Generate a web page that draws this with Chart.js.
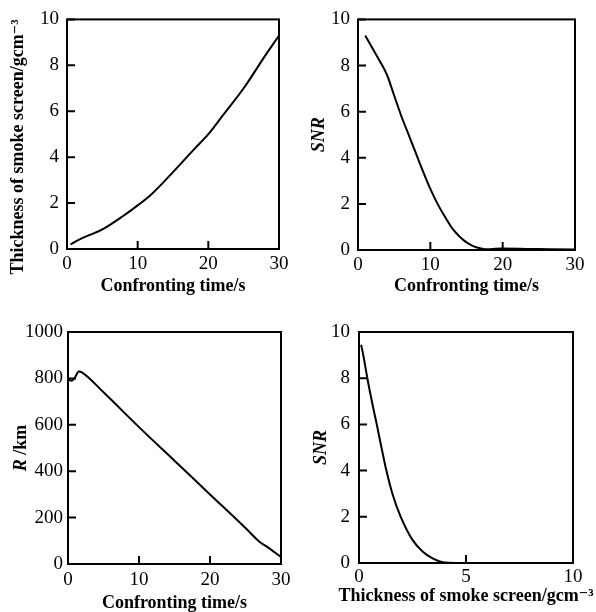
<!DOCTYPE html>
<html lang="en">
<head>
  <meta charset="UTF-8" />
  <title>Smoke screen charts</title>
  <script src="https://cdn.jsdelivr.net/npm/chart.js"></script>
  <style>
    body { margin: 0; background: #fff; }
    #wrap { position: relative; width: 596px; height: 612px; }
    canvas { position: absolute; }
  </style>
</head>
<body>
  <div id="wrap">
    <canvas id="c1" width="298" height="300" style="left:0;top:0"></canvas>
    <canvas id="c2" width="298" height="300" style="left:298px;top:0"></canvas>
    <canvas id="c3" width="298" height="312" style="left:0;top:300px"></canvas>
    <canvas id="c4" width="298" height="312" style="left:298px;top:300px"></canvas>
  </div>

  <script>
    // thickness of smoke screen vs confronting time
    const thickTime = [0.5, 2, 5, 8, 10, 12, 15, 18, 20, 22, 25, 28, 30];
    const thickVals = [0.2, 0.45, 0.85, 1.45, 1.9, 2.4, 3.35, 4.35, 5.0, 5.8, 7.0, 8.4, 9.3];

    // SNR vs confronting time
    const snrTime = [1, 2, 3, 4, 5, 6, 7, 8, 9, 10, 11, 12, 13, 14, 15, 16, 17, 18, 19, 20, 25, 30];
    const snrVals = [9.3, 8.75, 8.2, 7.6, 6.7, 5.8, 5.0, 4.2, 3.4, 2.65, 2.0, 1.45, 0.95, 0.6, 0.33, 0.16, 0.07, 0.03, 0.05, 0.06, 0.04, 0.02];

    // R vs confronting time
    const rTime = [0, 0.5, 1, 1.5, 2, 5, 10, 15, 20, 25, 27, 28, 30];
    const rVals = [795, 790, 805, 830, 825, 740, 590, 445, 300, 155, 95, 75, 30];

    // SNR vs thickness of smoke screen
    const snrThick = [0.1, 0.2, 0.39, 0.6, 0.83, 1.05, 1.28, 1.56, 1.95, 2.5, 2.97, 3.44, 4.0, 4.6];
    const snrThickVals = [9.45, 9.0, 8.0, 7.0, 6.0, 5.0, 4.0, 3.0, 2.0, 1.0, 0.5, 0.2, 0.02, 0];

    const serif = "'Liberation Serif', 'DejaVu Serif', serif";
    const timeTitle = 'Confronting time/s';
    const thickParts = [['Thickness of smoke screen/gcm', ''], ['\u207B\u00B3', '']];

    // box around plot area, ticks pointing inward
    const frame = {
      id: 'frame',
      afterDatasetsDraw(chart) {
        const { ctx, chartArea: a, scales: { x, y } } = chart;
        ctx.save();
        ctx.strokeStyle = '#000';
        ctx.lineWidth = 2;
        ctx.strokeRect(a.left, a.top, a.right - a.left, a.bottom - a.top);
        ctx.beginPath();
        x.ticks.forEach(t => {
          const px = x.getPixelForValue(t.value);
          ctx.moveTo(px, a.bottom);
          ctx.lineTo(px, a.bottom - 8);
        });
        y.ticks.forEach(t => {
          const py = y.getPixelForValue(t.value);
          ctx.moveTo(a.left, py);
          ctx.lineTo(a.left + 8, py);
        });
        ctx.stroke();
        ctx.restore();
      }
    };

    // axis title drawn in pieces (italic R, long titles that overhang the plot)
    function textTitle(parts, cx, cy, rot) {
      return {
        id: 'textTitle',
        afterDraw(chart) {
          const ctx = chart.ctx;
          ctx.save();
          ctx.translate(cx, cy);
          if (rot) ctx.rotate(-Math.PI / 2);
          ctx.fillStyle = '#000';
          ctx.textBaseline = 'middle';
          const fonts = parts.map(p => p[1] + ' bold 18px ' + serif);
          const widths = parts.map((p, i) => { ctx.font = fonts[i]; return ctx.measureText(p[0]).width; });
          let x0 = -widths.reduce((s, w) => s + w, 0) / 2;
          parts.forEach((p, i) => {
            ctx.font = fonts[i];
            ctx.fillText(p[0], x0, 0);
            x0 += widths[i];
          });
          ctx.restore();
        }
      };
    }

    function makeChart(id, xs, ys, o) {
      new Chart(document.getElementById(id), {
        type: 'scatter',
        data: {
          datasets: [{
            data: xs.map((v, i) => ({ x: v, y: ys[i] })),
            showLine: true,
            borderColor: '#000',
            borderWidth: 2,
            pointRadius: 0,
            cubicInterpolationMode: 'monotone'
          }]
        },
        options: {
          responsive: false,
          animation: false,
          layout: { padding: o.pad },
          plugins: { legend: { display: false }, tooltip: { enabled: false } },
          scales: {
            x: {
              type: 'linear', min: o.xMin, max: o.xMax,
              grid: { display: false, drawTicks: false },
              border: { display: false },
              ticks: { stepSize: o.xStep, color: '#000', padding: o.xtkPad, callback: v => String(v), font: { family: serif, size: 19 } },
              title: { display: !!o.xTitle, text: o.xTitle || '', color: '#000', padding: { top: 0, bottom: o.xtPad }, font: { family: serif, size: 18, weight: 'bold', lineHeight: 1 } },
              afterFit: s => { s.height = o.xH; }
            },
            y: {
              type: 'linear', min: o.yMin, max: o.yMax,
              grid: { display: false, drawTicks: false },
              border: { display: false },
              ticks: { stepSize: o.yStep, color: '#000', padding: o.ytkPad, callback: v => String(v), font: { family: serif, size: 19 } },
              title: { display: !!o.yTitle, text: o.yTitle || '', color: '#000', padding: { top: o.ytPad, bottom: 0 }, font: { family: serif, size: 18, weight: 'bold', style: 'italic', lineHeight: 1 } },
              afterFit: s => { s.width = o.yW; }
            }
          }
        },
        plugins: [frame].concat(o.extra || [])
      });
    }

    makeChart('c1', thickTime, thickVals, {
      pad: { left: 0, right: 19, top: 17, bottom: 0 }, xH: 51, yW: 67,
      xMin: 0, xMax: 30, xStep: 10, yMin: 0, yMax: 10, yStep: 2,
      xTitle: timeTitle, yTitle: null, xtPad: 5, ytPad: 0, xtkPad: 4, ytkPad: 8,
      extra: [textTitle(thickParts, 18, 147, true)]
    });
    makeChart('c2', snrTime, snrVals, {
      pad: { left: 0, right: 21, top: 17, bottom: 0 }, xH: 50, yW: 60,
      xMin: 0, xMax: 30, xStep: 10, yMin: 0, yMax: 10, yStep: 2,
      xTitle: timeTitle, yTitle: 'SNR', xtPad: 5, ytPad: 12, xtkPad: 4, ytkPad: 8
    });
    makeChart('c3', rTime, rVals, {
      pad: { left: 0, right: 17, top: 32, bottom: 0 }, xH: 48, yW: 68,
      xMin: 0, xMax: 30, xStep: 10, yMin: 0, yMax: 1000, yStep: 200,
      xTitle: timeTitle, yTitle: null, xtPad: 0, ytPad: 0, xtkPad: 5, ytkPad: 5,
      extra: [textTitle([['R', 'italic'], [' /km', '']], 21, 148, true)]
    });
    makeChart('c4', snrThick, snrThickVals, {
      pad: { left: 0, right: 23, top: 32, bottom: 0 }, xH: 49, yW: 61,
      xMin: 0, xMax: 10, xStep: 5, yMin: 0, yMax: 10, yStep: 2,
      xTitle: null, yTitle: 'SNR', xtPad: 0, ytPad: 14, xtkPad: 3, ytkPad: 9,
      extra: [textTitle(thickParts, 168, 296, false)]
    });
  </script>
</body>
</html>
